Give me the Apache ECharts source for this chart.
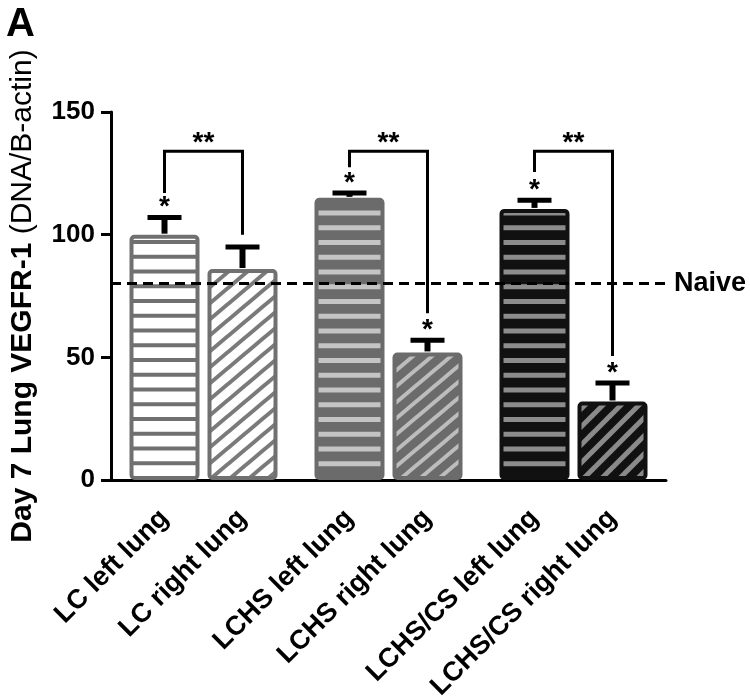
<!DOCTYPE html>
<html>
<head>
<meta charset="utf-8">
<script src="https://cdn.jsdelivr.net/npm/echarts@6/dist/echarts.min.js"></script>
<style>html,body{margin:0;padding:0;background:#fff}#chart{width:750px;height:700px}</style>
</head>
<body>
<div id="chart"></div>
<script>
// ---- data ----
const groups = ['LC', 'LCHS', 'LCHS/CS'];
const categories = ['LC left lung', 'LC right lung', 'LCHS left lung', 'LCHS right lung', 'LCHS/CS left lung', 'LCHS/CS right lung'];
const leftValues = [100, 115, 110.5];
const rightValues = [86, 52, 32];
const leftErr = [7, 2, 3.5];
const rightErr = [9, 5, 7.5];
const leftStars = ['*', '*', '*'];
const rightStars = ['', '*', '*'];
const bracketTop = [134, 134, 134];
const bracketLeftEnd = [117, 127.5, 125.5];
const bracketRightEnd = [100, 68, 50.5];
const bracketMark = ['**', '**', '**'];
const naiveValue = 80;
const naiveLabel = 'Naive';
const yTicks = [0, 50, 100, 150];

// ---- styling ----
const FONT = "'Liberation Sans', Arial, Helvetica, sans-serif";
const BAR_W = 70, GAP = 8;

function hStripes(bg, fg, thick) {
  const c = document.createElement('canvas');
  c.width = 4; c.height = 59;
  const ctx = c.getContext('2d');
  ctx.fillStyle = bg; ctx.fillRect(0, 0, 4, 59);
  ctx.fillStyle = fg;
  for (let k = 0; k < 4; k++) ctx.fillRect(0, k * 14.75 + 4, 4, thick);
  return { image: c, repeat: 'repeat' };
}
function dStripes(bg, fg, W, P, thick) {
  const c = document.createElement('canvas');
  c.width = W; c.height = P;
  const ctx = c.getContext('2d');
  ctx.fillStyle = bg; ctx.fillRect(0, 0, W, P);
  ctx.strokeStyle = fg; ctx.lineWidth = thick;
  for (let k = -2; k <= 2; k++) {
    ctx.beginPath();
    ctx.moveTo(-W, 2 * P + k * P);
    ctx.lineTo(2 * W, -P + k * P);
    ctx.stroke();
  }
  return { image: c, repeat: 'repeat' };
}
const leftStyles = [
  { color: hStripes('#ffffff', '#707070', 4), borderColor: '#707070', borderWidth: 4, borderRadius: 3 },
  { color: hStripes('#6b6b6b', '#c4c4c4', 5), borderColor: '#6b6b6b', borderWidth: 4, borderRadius: 3 },
  { color: hStripes('#111111', '#8c8c8c', 5), borderColor: '#111111', borderWidth: 4, borderRadius: 3 }
];
const rightStyles = [
  { color: dStripes('#ffffff', '#7a7a7a', 19, 16, 4), borderColor: '#707070', borderWidth: 4, borderRadius: 3 },
  { color: dStripes('#6b6b6b', '#bdbdbd', 19, 16, 4), borderColor: '#6b6b6b', borderWidth: 4, borderRadius: 3 },
  { color: dStripes('#111111', '#8a8a8a', 18, 18, 5), borderColor: '#111111', borderWidth: 4, borderRadius: 3 }
];

const errData = [];
const errStars = [];
for (let i = 0; i < groups.length; i++) {
  errData.push([i, leftValues[i], leftErr[i], -1]); errStars.push(leftStars[i]);
  errData.push([i, rightValues[i], rightErr[i], 1]); errStars.push(rightStars[i]);
}
const bracketData = groups.map((g, i) => [i, bracketLeftEnd[i], bracketRightEnd[i], bracketTop[i]]);

const labelStyle = {
  show: true, position: 'bottom', distance: 34, rotate: 45,
  align: 'right', verticalAlign: 'middle',
  fontFamily: FONT, fontWeight: 'bold', fontSize: 27, color: '#000'
};

const chart = echarts.init(document.getElementById('chart'), null, { renderer: 'canvas' });
chart.setOption({
  animation: false,
  backgroundColor: '#fff',
  title: {
    text: 'A', left: 6, top: 5, padding: 0,
    textStyle: { fontFamily: FONT, fontWeight: 'bold', fontSize: 40, color: '#000' }
  },
  grid: { left: 108, right: 84, top: 112, bottom: 220, containLabel: false },
  xAxis: {
    type: 'category', data: groups,
    axisLine: { lineStyle: { color: '#000', width: 3 } },
    axisTick: { show: false }, axisLabel: { show: false }
  },
  yAxis: {
    type: 'value', min: yTicks[0], max: yTicks[yTicks.length - 1], interval: 50,
    name: '{b|Day 7 Lung VEGFR-1 }{n|(DNA/B-actin)}',
    nameLocation: 'middle', nameRotate: 90, nameGap: 73,
    nameTextStyle: {
      rich: {
        b: { fontFamily: FONT, fontWeight: 'bold', fontSize: 30, color: '#000' },
        n: { fontFamily: FONT, fontWeight: 'normal', fontSize: 30, color: '#000' }
      }
    },
    axisLine: { show: true, lineStyle: { color: '#000', width: 3 } },
    axisTick: { show: true, length: 10, lineStyle: { color: '#000', width: 3 } },
    axisLabel: { margin: 16, fontFamily: FONT, fontWeight: 'bold', fontSize: 26, color: '#000' },
    splitLine: { show: false }
  },
  series: [
    {
      type: 'line', data: [], z: 1, silent: true,
      markLine: {
        silent: true, symbol: 'none',
        lineStyle: { color: '#000', width: 3, type: [10, 6] },
        label: { show: true, position: 'end', distance: 8, formatter: naiveLabel,
          fontFamily: FONT, fontWeight: 'bold', fontSize: 27, color: '#000' },
        data: [{ yAxis: naiveValue }]
      }
    },
    {
      type: 'bar', name: 'left lung', z: 3, barWidth: BAR_W, barGap: (GAP / BAR_W * 100) + '%',
      data: leftValues.map((v, i) => ({ value: v, itemStyle: leftStyles[i] })),
      label: Object.assign({}, labelStyle, { formatter: p => categories[p.dataIndex * 2] })
    },
    {
      type: 'bar', name: 'right lung', z: 3, barWidth: BAR_W, barGap: (GAP / BAR_W * 100) + '%',
      data: rightValues.map((v, i) => ({ value: v, itemStyle: rightStyles[i] })),
      label: Object.assign({}, labelStyle, { formatter: p => categories[p.dataIndex * 2 + 1] })
    },
    {
      type: 'custom', z: 5, silent: true,
      data: errData,
      encode: { x: 0, y: 1 },
      renderItem: function (params, api) {
        const cat = api.value(0), v = api.value(1), e = api.value(2), side = api.value(3);
        const base = api.coord([cat, v]);
        const top = api.coord([cat, v + e]);
        const x = base[0] + side * (BAR_W + GAP) / 2;
        const children = [
          { type: 'line', shape: { x1: x, y1: base[1] - 1, x2: x, y2: top[1] },
            style: { stroke: '#000', lineWidth: 6 } },
          { type: 'line', shape: { x1: x - 17, y1: top[1], x2: x + 17, y2: top[1] },
            style: { stroke: '#000', lineWidth: 5 } }
        ];
        const s = errStars[params.dataIndex];
        if (s) {
          children.push({ type: 'text', x: x, y: top[1] - 10,
            style: { text: s, textAlign: 'center', textVerticalAlign: 'middle',
              font: 'bold 28px ' + FONT, fill: '#000' } });
        }
        return { type: 'group', children: children };
      }
    },
    {
      type: 'custom', z: 5, silent: true,
      data: bracketData,
      encode: { x: 0, y: 3 },
      renderItem: function (params, api) {
        const cat = api.value(0);
        const c = api.coord([cat, api.value(3)]);
        const xL = c[0] - (BAR_W + GAP) / 2, xR = c[0] + (BAR_W + GAP) / 2;
        const yT = c[1];
        const yL = api.coord([cat, api.value(1)])[1];
        const yR = api.coord([cat, api.value(2)])[1];
        return { type: 'group', children: [
          { type: 'polyline', shape: { points: [[xL, yL], [xL, yT], [xR, yT], [xR, yR]] },
            style: { stroke: '#000', lineWidth: 3, fill: null } },
          { type: 'text', x: c[0], y: yT - 8,
            style: { text: bracketMark[params.dataIndex], textAlign: 'center', textVerticalAlign: 'middle',
              font: 'bold 28px ' + FONT, fill: '#000' } }
        ] };
      }
    }
  ]
});
</script>
</body>
</html>
